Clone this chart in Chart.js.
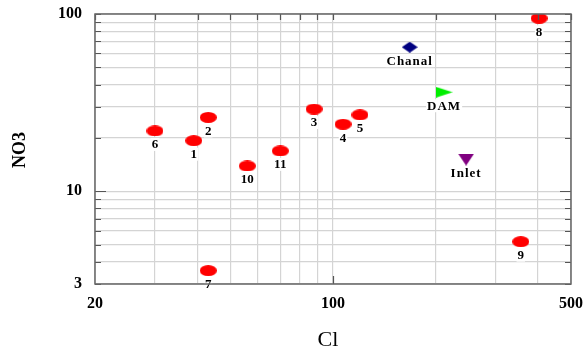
<!DOCTYPE html>
<html>
<head>
<meta charset="utf-8">
<script src="https://cdn.jsdelivr.net/npm/chart.js@4/dist/chart.umd.min.js"></script>
<style>
  html, body { margin: 0; padding: 0; background: #fff; }
  #wrap { width: 583px; height: 356px; }
</style>
</head>
<body>
<div id="wrap"><canvas id="chart" width="583" height="356"></canvas></div>
<script>
// sample wells
var sampleIds = ['1', '2', '3', '4', '5', '6', '7', '8', '9', '10', '11'];
var sampleCl  = [39, 43, 88, 107, 120, 30, 43, 403, 356, 56, 70];
var sampleNO3 = [19.3, 26.1, 29.1, 23.9, 27.0, 21.9, 3.57, 94.6, 5.2, 13.9, 16.9];

// surface sources
var sourceNames = ['Chanal', 'DAM', 'Inlet'];
var sourceCl    = [168, 212, 246];
var sourceNO3   = [65, 36.2, 15.1];

// axes
var xGrid   = [20, 30, 40, 50, 60, 70, 80, 90, 100, 200, 300, 400, 500];
var xLabels = [20, 100, 500];
var yGrid   = [3, 4, 5, 6, 7, 8, 9, 10, 20, 30, 40, 50, 60, 70, 80, 90, 100];
var yLabels = [3, 10, 100];

var serif = '"Liberation Serif", "Times New Roman", serif';

function makeMarker(w, h, color, shape) {
    var c = document.createElement('canvas');
    c.width = w;
    c.height = h;
    var g = c.getContext('2d');
    g.fillStyle = color;
    g.beginPath();
    if (shape === 'ellipse') {
        g.ellipse(w / 2, h / 2, w / 2, h / 2, 0, 0, 2 * Math.PI);
    } else if (shape === 'diamond') {
        g.moveTo(w / 2, 0); g.lineTo(w, h / 2); g.lineTo(w / 2, h); g.lineTo(0, h / 2);
    } else if (shape === 'right') {
        g.moveTo(0, 0); g.lineTo(w, h / 2); g.lineTo(0, h);
    } else if (shape === 'down') {
        g.moveTo(0, 0); g.lineTo(w, 0); g.lineTo(w / 2, h);
    }
    g.closePath();
    g.fill();
    return c;
}

var sourceMarkers = [
    makeMarker(16, 11, '#000080', 'diamond'),
    makeMarker(17, 11, '#00ee00', 'right'),
    makeMarker(16, 12, '#800080', 'down')
];

var datasets = [{
    label: 'samples',
    data: sampleCl.map(function(v, i) { return { x: v, y: sampleNO3[i] }; }),
    names: sampleIds,
    pointStyle: makeMarker(17, 11, '#ff0000', 'ellipse')
}];
sourceNames.forEach(function(n, i) {
    datasets.push({
        label: n,
        data: [{ x: sourceCl[i], y: sourceNO3[i] }],
        names: [n],
        spaced: true,
        pointStyle: sourceMarkers[i]
    });
});

// little dark ticks inside the frame
var frameTicks = {
    id: 'frameTicks',
    afterDraw: function(chart) {
        var ctx = chart.ctx, a = chart.chartArea;
        var xs = chart.scales.x, ys = chart.scales.y;
        ctx.save();
        ctx.strokeStyle = '#555';
        ctx.lineWidth = 1.2;
        ctx.beginPath();
        yGrid.forEach(function(v) {
            var y = Math.round(ys.getPixelForValue(v)) + 0.5;
            var len = (v === 10) ? 11 : 6;
            ctx.moveTo(a.left, y); ctx.lineTo(a.left + len, y);
            ctx.moveTo(a.right, y); ctx.lineTo(a.right - len, y);
        });
        xGrid.forEach(function(v) {
            var x = Math.round(xs.getPixelForValue(v)) + 0.5;
            ctx.moveTo(x, a.top); ctx.lineTo(x, a.top + 6);
            if (v === 100) {
                ctx.moveTo(x, a.bottom); ctx.lineTo(x, a.bottom - 8);
            }
        });
        ctx.stroke();
        ctx.strokeStyle = '#666';
        ctx.lineWidth = 1.5;
        ctx.strokeRect(a.left, a.top, a.right - a.left, a.bottom - a.top);
        ctx.restore();
    }
};

// names under the markers + axis titles
var pointNames = {
    id: 'pointNames',
    afterDatasetsDraw: function(chart) {
        var ctx = chart.ctx;
        ctx.save();
        ctx.font = 'bold 13px ' + serif;
        ctx.textAlign = 'center';
        ctx.textBaseline = 'middle';
        chart.data.datasets.forEach(function(ds, di) {
            var meta = chart.getDatasetMeta(di);
            meta.data.forEach(function(pt, i) {
                var txt = ds.names[i];
                ctx.letterSpacing = ds.spaced ? '1px' : '0px';
                var w = ctx.measureText(txt).width;
                var y = pt.y + 14;
                ctx.fillStyle = '#fff';
                ctx.fillRect(pt.x - w / 2 - 1, y - 7, w + 2, 13);
                ctx.fillStyle = '#000';
                ctx.fillText(txt, pt.x, y);
            });
        });
        ctx.letterSpacing = '0px';

        ctx.fillStyle = '#000';
        ctx.font = 'bold 18px ' + serif;
        ctx.translate(20, 150);
        ctx.rotate(-Math.PI / 2);
        ctx.fillText('NO3', 0, 0);
        ctx.restore();

        ctx.save();
        ctx.fillStyle = '#000';
        ctx.font = '22px ' + serif;
        ctx.textAlign = 'center';
        ctx.textBaseline = 'middle';
        ctx.fillText('Cl', 328, 340);
        ctx.restore();
    }
};

new Chart(document.getElementById('chart'), {
    type: 'scatter',
    data: { datasets: datasets },
    options: {
        responsive: false,
        animation: false,
        layout: { padding: { top: 14, right: 12, left: 0, bottom: 0 } },
        elements: { point: { radius: 8, hoverRadius: 8 } },
        plugins: {
            legend: { display: false },
            tooltip: { enabled: false }
        },
        scales: {
            x: {
                type: 'logarithmic',
                min: 20,
                max: 500,
                afterFit: function(s) {
                    s.height = 72;
                    s.paddingLeft = 0;
                    s.paddingRight = 0;
                },
                afterBuildTicks: function(s) {
                    s.ticks = xGrid.map(function(v) { return { value: v }; });
                },
                grid: { color: '#d4d4d4', lineWidth: 1.2, drawTicks: false },
                border: { display: false },
                ticks: {
                    autoSkip: false,
                    maxRotation: 0,
                    padding: 10,
                    color: '#000',
                    font: { family: serif, size: 16, weight: 'bold' },
                    callback: function(v) { return xLabels.indexOf(v) >= 0 ? String(v) : ''; }
                }
            },
            y: {
                type: 'logarithmic',
                min: 3,
                max: 100,
                afterFit: function(s) {
                    s.width = 95;
                    s.paddingTop = 0;
                    s.paddingBottom = 0;
                },
                afterBuildTicks: function(s) {
                    s.ticks = yGrid.map(function(v) { return { value: v }; });
                },
                grid: { color: '#d4d4d4', lineWidth: 1.2, drawTicks: false },
                border: { display: false },
                ticks: {
                    autoSkip: false,
                    padding: 13,
                    color: '#000',
                    font: { family: serif, size: 16, weight: 'bold' },
                    callback: function(v) { return yLabels.indexOf(v) >= 0 ? String(v) : ''; }
                }
            }
        }
    },
    plugins: [frameTicks, pointNames]
});
</script>
</body>
</html>
